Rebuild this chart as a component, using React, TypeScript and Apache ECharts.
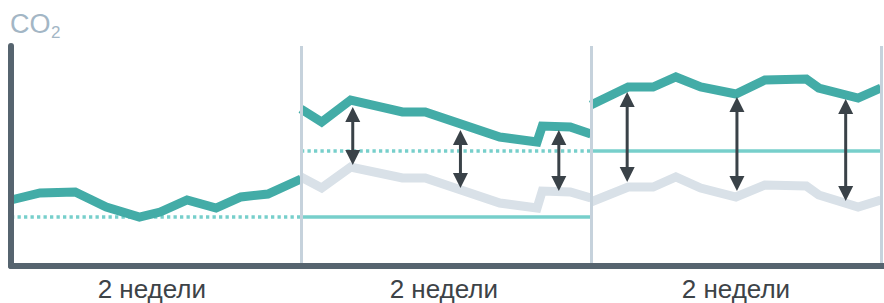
import React, { useEffect, useRef } from "react";
import * as echarts from "echarts";

// x = days (three 2-week periods), y = CO2 level (arbitrary units)
const segmentBounds = [14, 28, 42];
const segmentLabelPositions = [6.8, 20.9, 35];
const segmentLabels = ["2 недели", "2 недели", "2 недели"];

const teal1 = [[0, 66], [1.4, 73], [3.1, 74], [4.6, 59], [6.2, 49], [7.2, 54], [8.5, 66], [9.9, 58], [11.1, 69], [12.4, 72], [14, 87]];
const teal2 = [[14, 157], [15, 144], [16.4, 166], [18.9, 154], [20, 154], [23.6, 129], [25.4, 124], [25.65, 140], [27, 139], [28, 132]];
const grey2 = [[14, 89], [15, 78], [16.4, 99], [18.9, 88], [20, 88], [23.6, 63], [25.4, 58], [25.65, 75], [27, 74], [28, 68]];
const teal3 = [[28, 161], [29.8, 179], [31, 179], [32.1, 189], [33.3, 179], [35, 172], [36.4, 186], [38.4, 187], [39, 178], [40.9, 168], [42, 178]];
const grey3 = [[28, 64], [29.8, 79], [31, 79], [32.1, 89], [33.3, 78], [35, 69], [36.4, 81], [38.4, 80], [39, 71], [40.9, 59], [42, 66]];

const baselineLevel = 49;
const targetLevel = 115;

// [x, top tip, bottom tip]
const arrows = [
  [16.5, 159, 101],
  [21.7, 136, 78],
  [26.45, 136, 75],
  [29.75, 174, 84],
  [35.05, 169, 75],
  [40.3, 167, 65],
];

const TEAL = "#43aca7";
const GREY = "#d9e1e8";
const REF = "#77cfcb";
const AXIS = "#56646f";
const DIV = "#c6d2dc";
const ARROW = "#3a4248";

function lineSeries(data: number[][], color: string, z: number) {
  return {
    type: "line",
    data,
    showSymbol: false,
    silent: true,
    z,
    lineStyle: { color, width: 9, join: "miter", cap: "butt" },
  };
}

function refSeries(x0: number, x1: number, level: number, dotted: boolean) {
  return {
    type: "line",
    data: [[x0, level], [x1, level]],
    showSymbol: false,
    silent: true,
    z: 3,
    lineStyle: { color: REF, width: 3.3, type: dotted ? [3.3, 3.2] : "solid", cap: "butt" },
  };
}

export default function App() {
  const ref = useRef<HTMLDivElement>(null);
  useEffect(() => {
    document.body.style.margin = "0";
    const chart = echarts.init(ref.current!, null, { renderer: "svg" });
    chart.setOption({
      animation: false,
      grid: { left: 11, right: 0, top: 46, bottom: 37 },
      graphic: [
        { type: "text", left: 10, top: 10, style: { text: "CO", fontSize: 27, fill: "#a3b6c5", fontFamily: "Liberation Sans" } },
        { type: "text", left: 51, top: 24, style: { text: "2", fontSize: 17, fill: "#a3b6c5", fontFamily: "Liberation Sans" } },
      ],
      xAxis: [
        {
          type: "value",
          min: 0,
          max: 42.15,
          interval: 14,
          z: 5,
          axisLine: { show: true, onZero: false, lineStyle: { color: AXIS, width: 6 } },
          axisTick: { show: false },
          axisLabel: { show: false },
          splitLine: { show: false },
        },
        {
          type: "value",
          position: "bottom",
          min: 0,
          max: 42.15,
          axisLine: { show: false },
          axisTick: { show: false },
          splitLine: { show: false },
          axisLabel: {
            show: true,
            customValues: segmentLabelPositions,
            formatter: (v: number) => segmentLabels[segmentLabelPositions.indexOf(v)] ?? "",
            color: "#3d4347",
            fontSize: 26,
            fontFamily: "Liberation Sans",
            margin: 10,
          },
        },
      ],
      yAxis: {
        type: "value",
        min: 0,
        max: 220,
        z: 5,
        axisLine: { show: true, lineStyle: { color: AXIS, width: 6 } },
        axisTick: { show: false },
        axisLabel: { show: false },
        splitLine: { show: false },
      },
      series: [
        lineSeries(grey2, GREY, 2),
        lineSeries(grey3, GREY, 2),
        refSeries(0, segmentBounds[0], baselineLevel, true),
        refSeries(segmentBounds[0], segmentBounds[1], baselineLevel, false),
        refSeries(segmentBounds[0], segmentBounds[1], targetLevel, true),
        refSeries(segmentBounds[1], segmentBounds[2], targetLevel, false),
        lineSeries(teal1, TEAL, 4),
        lineSeries(teal2, TEAL, 4),
        lineSeries(teal3, TEAL, 4),
        {
          type: "line",
          data: [],
          z: 6,
          markLine: {
            silent: true,
            symbol: "none",
            label: { show: false },
            lineStyle: { color: DIV, width: 3, type: "solid" },
            data: segmentBounds.map((x) => ({ xAxis: x })),
          },
        },
        {
          type: "custom",
          z: 7,
          silent: true,
          data: arrows,
          renderItem: (params: any, api: any) => {
            const top = api.coord([api.value(0), api.value(1)]);
            const bot = api.coord([api.value(0), api.value(2)]);
            const hw = 7.5;
            const hh = 15;
            return {
              type: "group",
              children: [
                {
                  type: "line",
                  shape: { x1: top[0], y1: top[1] + hh - 1, x2: bot[0], y2: bot[1] - hh + 1 },
                  style: { stroke: ARROW, lineWidth: 3 },
                },
                {
                  type: "polygon",
                  shape: { points: [[top[0], top[1]], [top[0] - hw, top[1] + hh], [top[0] + hw, top[1] + hh]] },
                  style: { fill: ARROW },
                },
                {
                  type: "polygon",
                  shape: { points: [[bot[0], bot[1]], [bot[0] - hw, bot[1] - hh], [bot[0] + hw, bot[1] - hh]] },
                  style: { fill: ARROW },
                },
              ],
            };
          },
        },
      ],
    });
    return () => chart.dispose();
  }, []);
  return <div ref={ref} style={{ width: 884, height: 303 }} />;
}
